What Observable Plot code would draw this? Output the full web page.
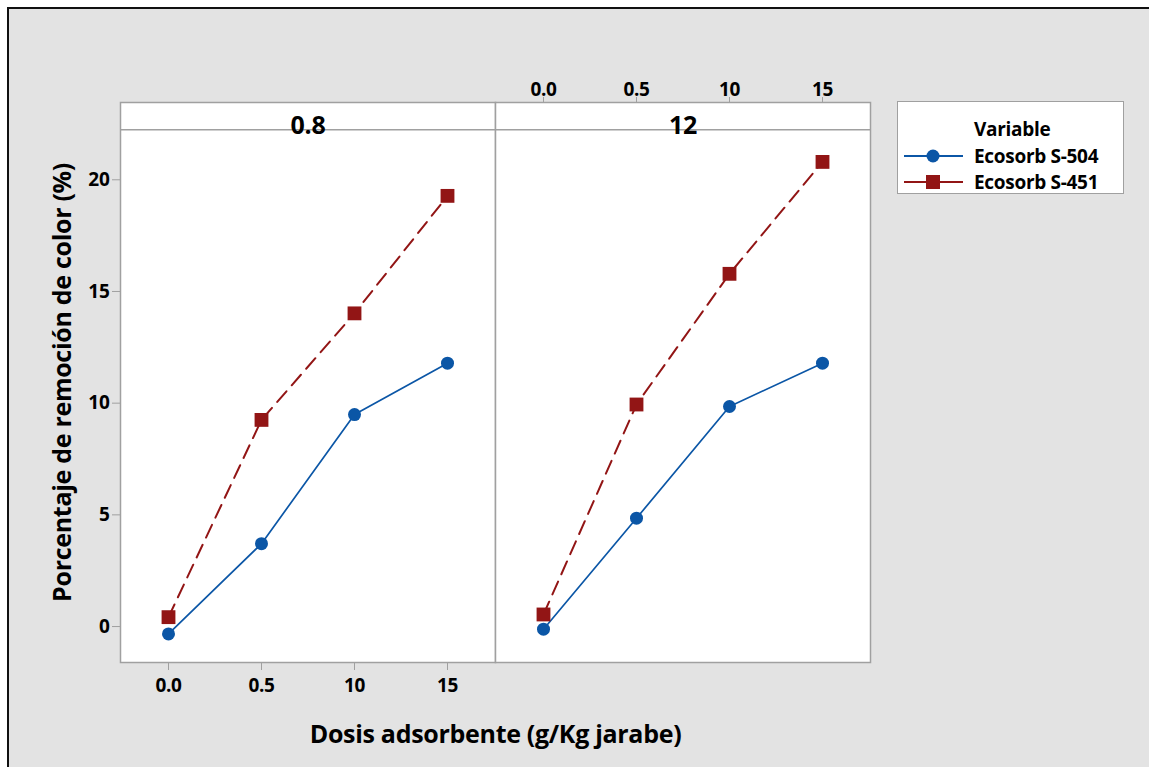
<!DOCTYPE html>
<html><head><meta charset="utf-8">
<script src="https://cdn.jsdelivr.net/npm/d3@7"></script>
<script src="https://cdn.jsdelivr.net/npm/@observablehq/plot@0.6"></script>
<style>
body{margin:0;background:#fff;}
#wrap{position:relative;width:1149px;height:767px;overflow:hidden;background:#fff;font-family:"Open Sans",sans-serif;}
#bg{position:absolute;left:7px;top:7px;width:1200px;height:800px;background:#e3e3e3;border-left:2px solid #111;border-top:2px solid #111;}
#chart{position:absolute;left:0;top:0;}
#legend{position:absolute;left:897px;top:101px;width:227px;height:93px;background:#fff;border:1.5px solid #a0a0a0;box-sizing:border-box;font-weight:700;font-size:19px;letter-spacing:-0.3px;color:#000;}
#legend .t{position:absolute;left:76px;line-height:20px;white-space:nowrap;}
#legend svg{position:absolute;left:5px;}
</style></head>
<body>
<div id="wrap"><div id="bg"></div><div id="chart"></div>
<div id="legend"></div></div>
<script>
const doses = ["0.0","0.5","10","15"];
const panels = ["0.8","12"];
const seriesNames = ["Ecosorb S-504","Ecosorb S-451"];
const s504_p08 = [-0.33, 3.71, 9.49, 11.79];
const s451_p08 = [0.42, 9.25, 14.02, 19.28];
const s504_p12 = [-0.12, 4.85, 9.85, 11.79];
const s451_p12 = [0.54, 9.94, 15.79, 20.80];
const yTicks = [0,5,10,15,20];
const colors = ["#0b56a6","#921515"];
const legendTitle = "Variable";
const xTitle = "Dosis adsorbente (g/Kg jarabe)";
const yTitle = "Porcentaje de remoción de color (%)";

const rows = [];
[[s504_p08, s451_p08],[s504_p12, s451_p12]].forEach((pair, pi) =>
  pair.forEach((vals, si) => vals.forEach((v, di) =>
    rows.push({panel: panels[pi], series: seriesNames[si], dose: doses[di], value: v}))));
const blue = rows.filter(d => d.series === seriesNames[0]);
const red = rows.filter(d => d.series === seriesNames[1]);
const stripBottom = 22.24;
const gray = "#a0a0a0";

const plot = Plot.plot({
  width: 1149, height: 767,
  marginLeft: 120, marginRight: 279, marginTop: 102, marginBottom: 105,
  style: {background: "transparent", fontFamily: "Open Sans", fontSize: "19px", fontWeight: 700, color: "#000", letterSpacing: "-0.3px"},
  fx: {domain: panels, padding: 0},
  x: {type: "point", domain: doses, padding: 0.5},
  y: {domain: [-1.61, 23.46]},
  marks: [
    Plot.frame({fill: "white", stroke: gray, strokeWidth: 1.5}),
    Plot.ruleY([stripBottom], {stroke: gray, strokeWidth: 1.5}),
    Plot.text(panels, {fx: d => d, text: d => d, frameAnchor: "top", dy: 23, lineAnchor: "middle", fontSize: 25, fontWeight: 700}),
    Plot.axisY({ticks: yTicks, tickSize: 8, tickPadding: 3, stroke: gray, label: null, fontSize: 19}),
    Plot.axisY({ticks: [], tickSize: 0, label: yTitle, labelAnchor: "center", labelOffset: 67, fontSize: 25, fontWeight: 700, labelArrow: "none"}),
    Plot.axisX({anchor: "bottom", facetAnchor: "left", tickSize: 8, tickPadding: 8, stroke: gray, label: null, fontSize: 19}),
    Plot.axisX({anchor: "top", facetAnchor: "right", tickSize: 6, tickPadding: 1, stroke: gray, label: null, fontSize: 19}),
    Plot.axisFx({anchor: "bottom", ticks: [], label: xTitle, labelAnchor: "center", labelOffset: 80, fontSize: 25, fontWeight: 700, labelArrow: "none"}),
    Plot.line(blue, {fx: "panel", x: "dose", y: "value", stroke: colors[0], strokeWidth: 1.7}),
    Plot.line(red, {fx: "panel", x: "dose", y: "value", stroke: colors[1], strokeWidth: 2, strokeDasharray: "14,8"}),
    Plot.dot(blue, {fx: "panel", x: "dose", y: "value", r: 6.5, fill: colors[0], symbol: "circle"}),
    Plot.dot(red, {fx: "panel", x: "dose", y: "value", r: 7.8, fill: colors[1], symbol: "square"})
  ]
});
document.getElementById("chart").appendChild(plot);

// legend
const lg = document.getElementById("legend");
const title = document.createElement("div");
title.className = "t"; title.style.top = "17px"; title.textContent = legendTitle;
lg.appendChild(title);
seriesNames.forEach((name, i) => {
  const top = 44 + i * 26;
  const sym = i === 0
    ? `<circle cx="30" cy="10" r="6.5" fill="${colors[0]}"/>`
    : `<rect x="23" y="3" width="14" height="14" fill="${colors[1]}"/>`;
  lg.insertAdjacentHTML("beforeend",
    `<svg width="62" height="20" style="top:${top}px"><line x1="1" x2="60" y1="10" y2="10" stroke="${colors[i]}" stroke-width="2"/>${sym}</svg><div class="t" style="top:${top}px">${name}</div>`);
});
</script>
</body></html>
